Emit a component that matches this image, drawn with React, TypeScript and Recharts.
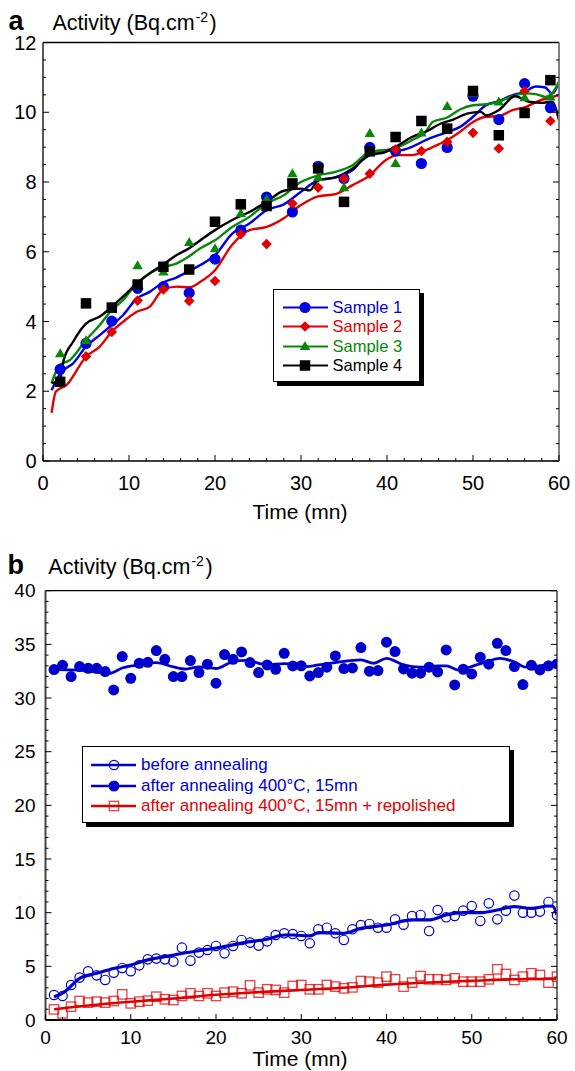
import React from 'react';
import { ComposedChart, Line, Scatter, XAxis, YAxis, ReferenceLine, Legend } from 'recharts';

const FONT = '"Liberation Sans", Arial, Helvetica, sans-serif';

// ---------------- Panel a data ----------------
const aTimes = [2, 5, 8, 11, 14, 17, 20, 23, 26, 29, 32, 35, 38, 41, 44, 47, 50, 53, 56, 59];
const aSample1 = [2.63, 3.37, 4.01, 4.95, 5.0, 4.82, 5.79, 6.62, 7.57, 7.14, 8.45, 8.1, 8.99, 8.89, 8.53, 8.99, 10.46, 9.79, 10.82, 10.13];
const aSample2 = [2.25, 3.0, 3.7, 4.6, 4.92, 4.59, 5.16, 6.5, 6.22, 7.38, 7.84, 8.1, 8.24, 8.93, 8.89, 9.15, 9.41, 8.96, 10.61, 9.75];
const aSample3 = [3.08, 3.45, 4.35, 5.6, 5.42, 6.27, 6.09, 7.1, 7.5, 8.24, 8.13, 7.84, 9.39, 8.53, 9.41, 10.17, 10.55, 10.3, 10.42, 10.44];
const aSample4 = [2.27, 4.52, 4.4, 5.06, 5.57, 5.49, 6.86, 7.36, 7.31, 7.96, 8.39, 7.43, 8.88, 9.29, 9.75, 9.53, 10.61, 9.34, 9.98, 10.92];

// smoothed curves [time, activity]
const aFit1: [number, number][] = [[1, 2.03], [2, 2.51], [3.5, 2.8], [5, 3.28], [6.6, 3.61], [8, 3.9], [9.3, 4.18], [10.9, 4.66], [12.4, 4.85], [13.9, 5.11], [15.5, 5.26], [17, 5.45], [18.3, 5.62], [20, 5.9], [22, 6.52], [24, 6.81], [26, 7.19], [28, 7.36], [30, 7.72], [32, 8.05], [34, 8.13], [36, 8.34], [38, 8.86], [40, 8.91], [41.5, 8.91], [43, 9.02], [44.5, 9.2], [45.5, 9.3], [47, 9.43], [48.5, 9.58], [50, 9.87], [51.5, 10.2], [53, 10.32], [54.6, 10.49], [56, 10.58], [57.3, 10.74], [58.4, 10.71], [59.2, 10.54], [60, 10.87]];
const aFit2: [number, number][] = [[1, 1.38], [1.5, 1.99], [2.75, 2.18], [5, 2.99], [6.6, 3.28], [8, 3.71], [9.3, 3.99], [10.9, 4.28], [12.4, 4.42], [13.9, 4.9], [15.5, 5.0], [17, 4.98], [18.3, 5.14], [20, 5.47], [22, 6.2], [24, 6.62], [26, 6.71], [28, 6.96], [30, 7.34], [32, 7.59], [34, 7.65], [36, 7.91], [38, 8.19], [39.8, 8.62], [41.3, 8.77], [42.9, 8.77], [44.5, 8.91], [46, 9.08], [47, 9.2], [48.5, 9.44], [50, 9.72], [51.5, 9.87], [53, 9.89], [54.6, 10.06], [56.1, 10.15], [57.6, 10.32], [59.2, 10.44], [60, 10.49]];
const aFit3: [number, number][] = [[1, 2.23], [1.9, 2.75], [3.1, 2.89], [5, 3.47], [6.6, 3.9], [8, 4.33], [9.3, 4.61], [10.9, 5.09], [12.4, 5.38], [13.9, 5.55], [15.5, 5.66], [17, 5.87], [18.3, 6.1], [20, 6.33], [22, 6.71], [24, 7.0], [26, 7.38], [28, 7.62], [30, 8.0], [32, 8.19], [34, 8.29], [36, 8.48], [38, 8.86], [39.8, 8.91], [41.3, 9.0], [42.9, 9.2], [44.5, 9.44], [45.3, 9.72], [47, 9.85], [48.5, 10.08], [50, 10.2], [51.5, 10.23], [53, 10.3], [54.6, 10.46], [56.1, 10.54], [57.3, 10.52], [58.4, 10.44], [59.2, 10.54], [60, 10.87]];
const aFit4: [number, number][] = [[1, 2.24], [1.9, 2.27], [2.4, 2.89], [3.5, 3.42], [5, 3.94], [6.6, 4.14], [8, 4.42], [9.3, 4.71], [10.9, 5.09], [12.4, 5.38], [13.9, 5.62], [15.5, 5.9], [17, 6.1], [18.3, 6.33], [20, 6.62], [22, 6.91], [24, 7.14], [26, 7.43], [28, 7.75], [30, 7.81], [31, 7.76], [32, 8.05], [34, 8.13], [36, 8.39], [38, 8.77], [39.8, 8.86], [41.3, 9.05], [42.9, 9.29], [44.5, 9.44], [46.2, 9.67], [47.7, 9.79], [49.3, 9.96], [50.9, 10.01], [51.5, 9.91], [53, 10.06], [54.9, 10.46], [56.5, 10.3], [58, 10.27], [59.2, 10.3], [60, 9.77]];

// ---------------- Panel b data ----------------
const bTimes = Array.from({ length: 60 }, (_, i) => i + 1);
const bBefore = [2.33, 2.24, 3.26, 3.95, 4.54, 4.16, 3.73, 4.41, 4.85, 4.54, 5.09, 5.65, 5.72, 5.65, 5.44, 6.74, 5.53, 6.28, 6.52, 6.9, 6.21, 6.9, 7.46, 7.21, 6.93, 7.33, 7.92, 8.08, 8.01, 7.83, 7.15, 8.45, 8.6, 8.08, 7.46, 8.45, 8.85, 8.95, 8.6, 8.6, 9.38, 8.88, 9.69, 9.79, 8.29, 10.25, 9.57, 9.69, 10.19, 10.62, 9.23, 10.87, 9.38, 10.19, 11.59, 10.0, 10.0, 10.1, 11.0, 9.75];
const bAfter = [32.65, 33.05, 32.0, 32.93, 32.77, 32.77, 32.46, 30.75, 33.86, 31.84, 33.24, 33.33, 34.42, 33.61, 32.0, 32.0, 33.49, 32.37, 33.15, 31.38, 34.05, 33.61, 34.3, 33.3, 32.37, 33.08, 32.68, 34.17, 32.99, 33.0, 32.06, 32.37, 32.87, 33.92, 32.74, 32.8, 34.7, 32.5, 32.56, 35.2, 34.33, 32.71, 32.31, 32.31, 32.87, 32.43, 34.48, 31.22, 32.68, 32.25, 33.8, 33.15, 35.1, 34.42, 32.93, 31.25, 33.05, 32.62, 33.0, 33.18];
const bRepol = [0.99, 0.62, 1.24, 1.77, 1.62, 1.71, 1.62, 1.77, 2.39, 1.55, 1.71, 1.8, 2.17, 1.93, 1.86, 2.24, 2.49, 2.24, 2.49, 2.24, 2.55, 2.64, 2.49, 3.23, 2.55, 2.86, 2.8, 2.55, 3.17, 3.26, 2.86, 2.86, 3.26, 3.11, 2.95, 3.04, 3.63, 3.57, 3.48, 4.04, 3.79, 3.11, 3.48, 4.1, 3.79, 3.79, 3.73, 3.88, 3.57, 3.57, 3.57, 3.79, 4.72, 4.29, 3.73, 4.04, 4.35, 4.19, 3.48, 4.04];

const bFitBefore: [number, number][] = [[1, 2.17], [2, 2.5], [2.5, 2.8], [4, 3.88], [6, 4.35], [8, 4.8], [10, 5.13], [12, 5.6], [14, 5.9], [16, 6.2], [18, 6.46], [20, 6.71], [22, 7.0], [24, 7.3], [26, 7.52], [28, 7.92], [29, 7.92], [31, 7.83], [32, 8.14], [35, 8.08], [37, 8.54], [40, 8.85], [43, 9.32], [45, 9.32], [47, 9.79], [49, 10.0], [51, 10.0], [53, 10.25], [55, 10.56], [57, 10.4], [59, 10.62], [59.5, 10.6], [60, 9.79]];
const bFitAfter: [number, number][] = [[1, 32.65], [4, 32.6], [7.5, 32.3], [9, 32.8], [11, 33.1], [13, 33.3], [15, 32.9], [16.5, 32.7], [18, 32.9], [20, 32.75], [22, 33.4], [23.5, 33.5], [26, 33.1], [28, 33.2], [30.6, 32.93], [32, 33.08], [34, 33.3], [37, 33.55], [38.5, 33.24], [40, 33.7], [42, 33.08], [44, 32.87], [46, 32.99], [47, 32.99], [48.5, 32.6], [50.2, 33.0], [51.8, 33.4], [53.3, 33.7], [54.9, 33.4], [56.4, 32.87], [58.8, 33.08], [60, 33.18]];
const bFitRepol: [number, number][] = [[1, 1.0], [5, 1.35], [10, 1.7], [15, 2.0], [20, 2.35], [25, 2.6], [30, 2.8], [35, 3.0], [40, 3.3], [45, 3.5], [50, 3.65], [55, 3.8], [60, 3.85]];

// ---------------- ticks ----------------
const xMajor = [0, 10, 20, 30, 40, 50, 60];
const aYMajor = [0, 2, 4, 6, 8, 10, 12];
const bYMajor = [0, 5, 10, 15, 20, 25, 30, 35, 40];
const steps = (lo: number, hi: number, st: number) => {
  const out: number[] = [];
  for (let v = lo; v <= hi + 1e-9; v += st) out.push(Math.round(v * 1000) / 1000);
  return out;
};
const xTicks = steps(0, 60, 2);
const aYTicks = steps(0, 12, 0.5);
const bYTicks = steps(0, 40, 1);

const toPts = (xs: number[], ys: number[]) => xs.map((x, i) => ({ x, y: ys[i] }));
const toFit = (pairs: [number, number][]) => pairs.map(([x, y]) => ({ x, y }));

// ---------------- colours / marks ----------------
const A_BLUE = '#0000e0';
const A_RED = '#e00000';
const A_GREEN = '#0a870a';
const A_BLACK = '#000000';
const B_BLUE = '#0000cc';
const B_RED = '#e00000';

type Mark = (cx: number, cy: number) => React.ReactElement;
const circleMark = (r: number, fill: string, stroke = 'none', sw = 0): Mark => (cx, cy) => (
  <circle cx={cx} cy={cy} r={r} fill={fill} stroke={stroke} strokeWidth={sw} />
);
const diamondMark = (h: number, color: string): Mark => (cx, cy) => (
  <path d={`M${cx},${cy - h}L${cx + h},${cy}L${cx},${cy + h}L${cx - h},${cy}Z`} fill={color} />
);
const triangleMark = (w: number, h: number, color: string): Mark => (cx, cy) => (
  <path d={`M${cx},${cy - h * 0.6}L${cx + w / 2},${cy + h * 0.4}L${cx - w / 2},${cy + h * 0.4}Z`} fill={color} />
);
const squareMark = (s: number, fill: string, stroke = 'none', sw = 0, op = 1): Mark => (cx, cy) => (
  <rect x={cx - s / 2} y={cy - s / 2} width={s} height={s} fill={fill} stroke={stroke} strokeWidth={sw} strokeOpacity={op} />
);

const aSeries = [
  { name: 'Sample 1', color: A_BLUE, pts: toPts(aTimes, aSample1), fit: toFit(aFit1), mark: circleMark(5.6, A_BLUE) },
  { name: 'Sample 2', color: A_RED, pts: toPts(aTimes, aSample2), fit: toFit(aFit2), mark: diamondMark(5.3, A_RED) },
  { name: 'Sample 3', color: A_GREEN, pts: toPts(aTimes, aSample3), fit: toFit(aFit3), mark: triangleMark(10.5, 9, A_GREEN) },
  { name: 'Sample 4', color: A_BLACK, pts: toPts(aTimes, aSample4), fit: toFit(aFit4), mark: squareMark(10.5, A_BLACK) },
];

const bSeries = [
  { name: 'before annealing', color: B_BLUE, text: B_BLUE, pts: toPts(bTimes, bBefore), fit: toFit(bFitBefore), mark: circleMark(4.7, 'none', B_BLUE, 1.2), lw: 3.2 },
  { name: 'after annealing 400°C, 15mn', color: B_BLUE, text: B_BLUE, pts: toPts(bTimes, bAfter), fit: toFit(bFitAfter), mark: circleMark(5.5, B_BLUE), lw: 2.8 },
  { name: 'after annealing 400°C, 15mn + repolished', color: B_RED, text: B_RED, pts: toPts(bTimes, bRepol), fit: toFit(bFitRepol), mark: squareMark(9.4, 'none', B_RED, 1.3, 0.75), lw: 2.6 },
];

// ---------------- tick renderer ----------------
const isIn = (arr: number[], v: number) => arr.some((m) => Math.abs(m - v) < 1e-6);
function makeTick(orient: 'left' | 'right' | 'bottom', majors: number[], fontSize: number, gap: number, label: boolean) {
  return (props: any) => {
    const { x, y, payload } = props;
    const v = payload.value as number;
    const major = isIn(majors, v);
    const len = major ? 6 : 3;
    let line;
    let text = null;
    if (orient === 'left') {
      line = <line x1={x} y1={y} x2={x + len} y2={y} stroke="#000" strokeWidth={1} />;
      if (label && major)
        text = (
          <text x={x - gap} y={y} textAnchor="end" dominantBaseline="central" fontSize={fontSize} fontFamily={FONT} fill="#000">
            {v}
          </text>
        );
    } else if (orient === 'right') {
      line = <line x1={x} y1={y} x2={x - len} y2={y} stroke="#000" strokeWidth={1} />;
    } else {
      line = <line x1={x} y1={y} x2={x} y2={y - len} stroke="#000" strokeWidth={1} />;
      if (label && major)
        text = (
          <text x={x} y={y + gap} textAnchor="middle" dominantBaseline="central" fontSize={fontSize} fontFamily={FONT} fill="#000">
            {v}
          </text>
        );
    }
    return (
      <g>
        {line}
        {text}
      </g>
    );
  };
}

// ---------------- legends ----------------
function LegendA() {
  return (
    <div
      style={{
        position: 'relative',
        width: 147,
        height: 93,
        border: '1.5px solid #000',
        boxShadow: '4px 4px 0 #000',
        background: '#fff',
        boxSizing: 'border-box',
        fontFamily: FONT,
      }}
    >
      {aSeries.map((s, i) => (
        <div key={s.name} style={{ position: 'absolute', left: -1.5, top: 7.5 + i * 19.5, height: 19, width: 147 }}>
          <svg width={58} height={19} style={{ position: 'absolute', left: 0, top: 0 }}>
            <line x1={10} x2={55} y1={9.5} y2={9.5} stroke={s.color} strokeWidth={2.2} />
            {s.mark(32, 9.5)}
          </svg>
          <span style={{ position: 'absolute', left: 60, top: 0, lineHeight: '19px', fontSize: 16.5, color: s.color, whiteSpace: 'nowrap' }}>
            {s.name}
          </span>
        </div>
      ))}
    </div>
  );
}

function LegendB() {
  return (
    <div
      style={{
        position: 'relative',
        width: 428,
        height: 77,
        border: '1.5px solid #000',
        boxShadow: '4px 4px 0 #000',
        background: '#fff',
        boxSizing: 'border-box',
        fontFamily: FONT,
      }}
    >
      {bSeries.map((s, i) => (
        <div key={s.name} style={{ position: 'absolute', left: -1.5, top: 8 + i * 20.5, height: 20, width: 428 }}>
          <svg width={58} height={20} style={{ position: 'absolute', left: 0, top: 0 }}>
            <line x1={10} x2={55} y1={10} y2={10} stroke={s.color} strokeWidth={2.4} />
            {s.mark(33, 10)}
          </svg>
          <span style={{ position: 'absolute', left: 60, top: 0, lineHeight: '20px', fontSize: 17, color: s.text, whiteSpace: 'nowrap' }}>
            {s.name}
          </span>
        </div>
      ))}
    </div>
  );
}

// ---------------- titles ----------------
function PanelTitle({ letter, top, letterLeft, textLeft, textTop }: { letter: string; top: number; letterLeft: number; textLeft: number; textTop: number }) {
  return (
    <>
      <div style={{ position: 'absolute', left: letterLeft, top, fontFamily: FONT, fontWeight: 'bold', fontSize: 27, lineHeight: '27px' }}>{letter}</div>
      <div style={{ position: 'absolute', left: textLeft, top: textTop, fontFamily: FONT, fontSize: 21.5, lineHeight: '21px', whiteSpace: 'nowrap' }}>
        Activity (Bq.cm
        <span style={{ fontSize: 14, position: 'relative', top: -8, marginLeft: 1, marginRight: 1.5 }}>-2</span>)
      </div>
    </>
  );
}

function AxisTitle({ top }: { top: number }) {
  return (
    <div style={{ position: 'absolute', left: 0, width: 600, textAlign: 'center', top, fontFamily: FONT, fontSize: 21, lineHeight: '21px' }}>
      Time (mn)
    </div>
  );
}

export default function App() {
  return (
    <div style={{ position: 'absolute', left: 0, top: 0, width: 575, height: 1071, background: '#fff' }}>
      {/* Panel a */}
      <div style={{ position: 'absolute', left: 0, top: 0 }}>
        <ComposedChart width={575} height={530} margin={{ top: 42.5, right: 0, bottom: 39, left: 0 }}>
          <XAxis
            type="number"
            dataKey="x"
            domain={[0, 60]}
            ticks={xTicks}
            interval={0}
            allowDataOverflow
            height={30}
            tickSize={0}
            tickMargin={0}
            tickLine={false}
            axisLine={{ stroke: '#000', strokeWidth: 1.5 }}
            tick={makeTick('bottom', xMajor, 20, 22, true)}
          />
          <YAxis
            yAxisId="l"
            type="number"
            dataKey="y"
            domain={[0, 12]}
            ticks={aYTicks}
            interval={0}
            allowDataOverflow
            width={43}
            tickSize={0}
            tickMargin={0}
            tickLine={false}
            axisLine={{ stroke: '#000', strokeWidth: 1.3 }}
            tick={makeTick('left', aYMajor, 20, 6.5, true)}
          />
          <YAxis
            yAxisId="r"
            orientation="right"
            type="number"
            domain={[0, 12]}
            ticks={aYTicks}
            interval={0}
            allowDataOverflow
            width={16}
            tickSize={0}
            tickMargin={0}
            tickLine={false}
            axisLine={{ stroke: '#808080', strokeWidth: 2 }}
            tick={makeTick('right', aYMajor, 20, 0, false)}
          />
          <ReferenceLine yAxisId="l" y={12} stroke="#000" strokeWidth={1.3} />
          {aSeries.map((s) => (
            <Line
              key={'fit' + s.name}
              yAxisId="l"
              data={s.fit}
              dataKey="y"
              type="monotone"
              stroke={s.color}
              strokeWidth={2.4}
              dot={false}
              activeDot={false}
              legendType="none"
              isAnimationActive={false}
            />
          ))}
          {aSeries.map((s) => (
            <Scatter
              key={'pts' + s.name}
              yAxisId="l"
              name={s.name}
              data={s.pts}
              dataKey="y"
              fill={s.color}
              shape={(p: any) => s.mark(p.cx, p.cy)}
              isAnimationActive={false}
            />
          ))}
          <Legend
            layout="horizontal"
            verticalAlign="middle"
            align="center"
            wrapperStyle={{ left: 273, top: 289, width: 147, height: 93 }}
            content={() => <LegendA />}
          />
        </ComposedChart>
      </div>

      {/* Panel b */}
      <div style={{ position: 'absolute', left: 0, top: 540 }}>
        <ComposedChart width={575} height={531} margin={{ top: 50.7, right: 0, bottom: 21, left: 0 }}>
          <XAxis
            type="number"
            dataKey="x"
            domain={[0, 60]}
            ticks={xTicks}
            interval={0}
            allowDataOverflow
            height={30}
            tickSize={0}
            tickMargin={0}
            tickLine={false}
            axisLine={{ stroke: '#000', strokeWidth: 2 }}
            tick={makeTick('bottom', xMajor, 19, 17, true)}
          />
          <YAxis
            yAxisId="l"
            type="number"
            dataKey="y"
            domain={[0, 40]}
            ticks={bYTicks}
            interval={0}
            allowDataOverflow
            width={45.5}
            tickSize={0}
            tickMargin={0}
            tickLine={false}
            axisLine={{ stroke: '#444', strokeWidth: 2 }}
            tick={makeTick('left', bYMajor, 19, 10, true)}
          />
          <YAxis
            yAxisId="r"
            orientation="right"
            type="number"
            domain={[0, 40]}
            ticks={bYTicks}
            interval={0}
            allowDataOverflow
            width={18}
            tickSize={0}
            tickMargin={0}
            tickLine={false}
            axisLine={{ stroke: '#707070', strokeWidth: 2 }}
            tick={makeTick('right', bYMajor, 19, 0, false)}
          />
          <ReferenceLine yAxisId="l" y={40} stroke="#000" strokeWidth={1.3} />
          {bSeries.map((s) => (
            <Scatter
              key={'pts' + s.name}
              yAxisId="l"
              name={s.name}
              data={s.pts}
              dataKey="y"
              fill={s.color}
              shape={(p: any) => s.mark(p.cx, p.cy)}
              isAnimationActive={false}
            />
          ))}
          {bSeries.map((s) => (
            <Line
              key={'fit' + s.name}
              yAxisId="l"
              data={s.fit}
              dataKey="y"
              type="monotone"
              stroke={s.color}
              strokeWidth={s.lw}
              dot={false}
              activeDot={false}
              legendType="none"
              isAnimationActive={false}
            />
          ))}
          <Legend
            layout="horizontal"
            verticalAlign="middle"
            align="center"
            wrapperStyle={{ left: 81.5, top: 206, width: 428, height: 77 }}
            content={() => <LegendB />}
          />
        </ComposedChart>
      </div>

      <PanelTitle letter="a" top={8} letterLeft={8.5} textLeft={52.5} textTop={13} />
      <AxisTitle top={501} />
      <PanelTitle letter="b" top={551.5} letterLeft={7.5} textLeft={48.3} textTop={556.5} />
      <AxisTitle top={1048} />
    </div>
  );
}
